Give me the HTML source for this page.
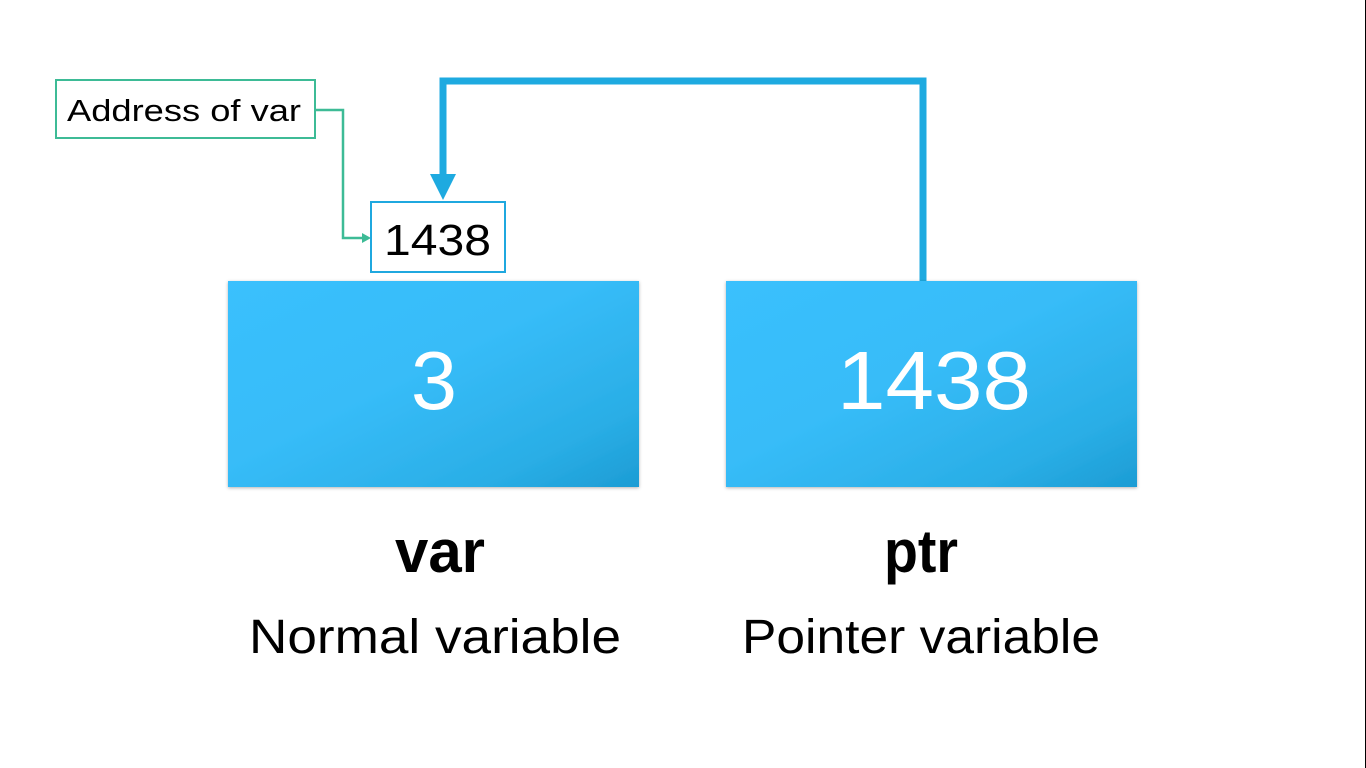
<!DOCTYPE html>
<html><head><meta charset="utf-8"><style>
html,body{margin:0;padding:0;background:#fff;}
svg{display:block;}
text{font-family:"Liberation Sans",sans-serif;}
</style></head><body>
<svg width="1366" height="768" viewBox="0 0 1366 768">
<defs>
<linearGradient id="g" x1="0" y1="0" x2="1" y2="1">
<stop offset="0" stop-color="#3ac0fd"/><stop offset="0.45" stop-color="#37bcf8"/><stop offset="0.8" stop-color="#2aaee6"/><stop offset="1" stop-color="#1c9cd4"/>
</linearGradient>
<filter id="sh" x="-5%" y="-5%" width="110%" height="110%"><feDropShadow dx="0" dy="1" stdDeviation="1.5" flood-color="#000" flood-opacity="0.3"/></filter>
</defs>
<rect x="1365" y="0" width="1" height="768" fill="#000"/>
<g>
<rect x="56" y="80" width="259" height="58" fill="#fff" stroke="#3dbb96" stroke-width="2"/>
<text x="67" y="121" font-size="31" textLength="234" lengthAdjust="spacingAndGlyphs">Address of var</text>
</g>
<polyline points="315,110 343,110 343,238 364,238" fill="none" stroke="#3dbb96" stroke-width="2.5"/>
<polygon points="371,238 362,233 362,243" fill="#3dbb96"/>
<g>
<rect x="371" y="202" width="134" height="70" fill="#fff" stroke="#1fa8df" stroke-width="2"/>
<text x="384" y="255" font-size="44" textLength="107" lengthAdjust="spacingAndGlyphs">1438</text>
</g>
<polyline points="923,283 923,81 443,81 443,180" fill="none" stroke="#1eaae0" stroke-width="7"/>
<polygon points="430,174 456,174 443,200" fill="#1eaae0"/>
<g>
<rect x="228" y="281" width="411" height="206" fill="url(#g)" filter="url(#sh)"/>
<text x="434" y="409" font-size="83" fill="#fff" text-anchor="middle">3</text>
</g>
<g>
<rect x="726" y="281" width="411" height="206" fill="url(#g)" filter="url(#sh)"/>
<text x="934" y="409" font-size="83" fill="#fff" text-anchor="middle" textLength="194" lengthAdjust="spacingAndGlyphs">1438</text>
</g>
<text x="440" y="572" font-size="60" font-weight="bold" text-anchor="middle" textLength="90" lengthAdjust="spacingAndGlyphs">var</text>
<text x="435" y="653" font-size="48" text-anchor="middle" textLength="372" lengthAdjust="spacingAndGlyphs">Normal variable</text>
<text x="921" y="572" font-size="60" font-weight="bold" text-anchor="middle" textLength="74" lengthAdjust="spacingAndGlyphs">ptr</text>
<text x="921" y="653" font-size="48" text-anchor="middle" textLength="358" lengthAdjust="spacingAndGlyphs">Pointer variable</text>
</svg>
</body></html>
